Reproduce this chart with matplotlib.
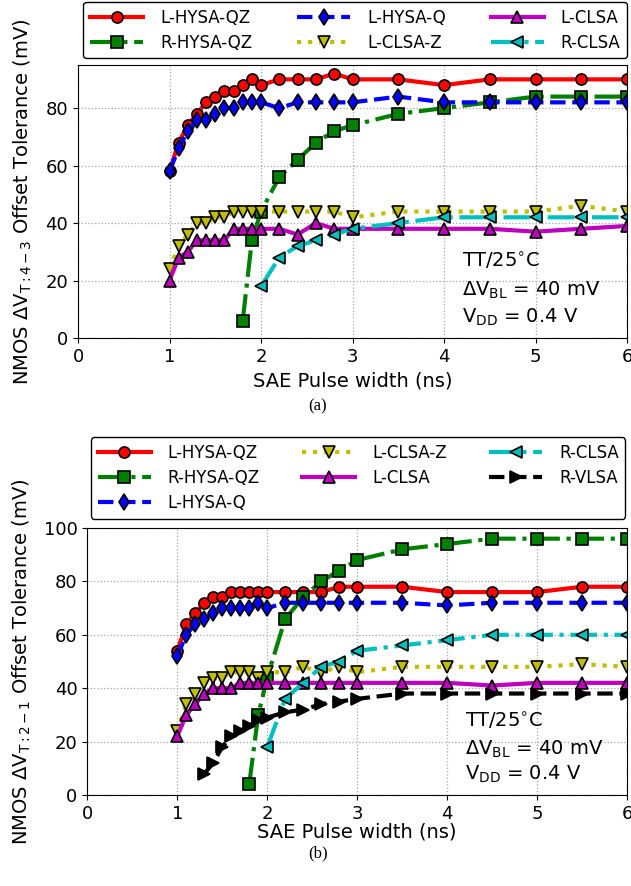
import matplotlib
matplotlib.use("Agg")
import matplotlib.pyplot as plt

# pulse widths (ns)
x_l = [1.0, 1.1, 1.2, 1.3, 1.4, 1.5, 1.6, 1.7, 1.8, 1.9, 2.0,
       2.2, 2.4, 2.6, 2.8, 3.0, 3.5, 4.0, 4.5, 5.0, 5.5, 6.0]
x_rq = [1.8, 1.9, 2.0, 2.2, 2.4, 2.6, 2.8, 3.0, 3.5, 4.0, 4.5, 5.0, 5.5, 6.0]
x_rc = [2.0, 2.2, 2.4, 2.6, 2.8, 3.0, 3.5, 4.0, 4.5, 5.0, 5.5, 6.0]
x_rv = [1.3, 1.4, 1.5, 1.6, 1.7, 1.8, 1.9, 2.0, 2.2, 2.4, 2.6, 2.8, 3.0,
        3.5, 4.0, 4.5, 5.0, 5.5, 6.0]

# (a) dVT:4-3
hysa_qz_a = [58, 68, 74, 78, 82, 84, 86, 86, 88, 90, 88, 90, 90, 90, 92, 90, 90, 88, 90, 90, 90, 90]
hysa_q_a = [58, 66, 72, 76, 76, 78, 80, 80, 82, 82, 82, 80, 82, 82, 82, 82, 84, 82, 82, 82, 82, 82]
clsa_z_a = [24, 32, 36, 40, 40, 42, 42, 44, 44, 44, 44, 44, 44, 44, 44, 42, 44, 44, 44, 44, 46, 44]
clsa_a = [20, 28, 30, 34, 34, 34, 34, 38, 38, 38, 38, 38, 36, 40, 38, 38, 38, 38, 38, 37, 38, 39]
r_hysa_qz_a = [6, 34, 44, 56, 62, 68, 72, 74, 78, 80, 82, 84, 84, 84]
r_clsa_a = [18, 28, 32, 34, 36, 38, 40, 42, 42, 42, 42, 42]

# (b) dVT:2-1
hysa_qz_b = [54, 64, 68, 72, 74, 74, 76, 76, 76, 76, 76, 76, 76, 76, 78, 78, 78, 76, 76, 76, 78, 78]
hysa_q_b = [52, 60, 64, 66, 68, 70, 70, 70, 70, 72, 70, 72, 72, 72, 72, 72, 72, 71, 72, 72, 72, 72]
clsa_z_b = [24, 34, 38, 42, 44, 44, 46, 46, 46, 44, 46, 46, 48, 46, 48, 46, 48, 48, 48, 48, 49, 48]
clsa_b = [22, 30, 34, 38, 40, 40, 40, 42, 42, 42, 42, 42, 42, 42, 42, 42, 42, 42, 41, 42, 42, 42]
r_hysa_qz_b = [4, 30, 44, 66, 74, 80, 84, 88, 92, 94, 96, 96, 96, 96]
r_clsa_b = [18, 36, 42, 48, 50, 54, 56, 58, 60, 60, 60, 60]
r_vlsa_b = [8, 12, 18, 22, 24, 26, 28, 29, 31, 32, 34, 35, 36, 38, 38, 38, 38, 38, 38]

cond_lines = ['TT/25$^{\\circ}$C', '$\\Delta$V$_{\\rm BL}$ = 40 mV', 'V$_{\\rm DD}$ = 0.4 V']

LW = 3
MS = 8


def draw(ax, x, y, color, ls, marker, label):
    ax.plot(x, y, color=color, linestyle=ls, linewidth=LW, marker=marker,
            markersize=MS, markeredgecolor='k', markeredgewidth=1.2, label=label)


def style(ax, ylim, sub, xpad):
    ax.set_xlim(0, 6)
    ax.set_ylim(*ylim)
    ax.set_xticks(range(7))
    ax.grid(True, linestyle=':', color='0.65', linewidth=0.9)
    ax.tick_params(labelsize=13)
    ax.set_xlabel('SAE Pulse width (ns)', fontsize=14, labelpad=xpad)
    ax.set_ylabel(r'NMOS $\Delta\mathrm{V}_{\mathrm{T:%s}}$ Offset Tolerance (mV)' % sub,
                  fontsize=14, labelpad=8)


def conditions(ax, x, ys):
    for y, s in zip(ys, cond_lines):
        ax.text(x, y, s, fontsize=14, va='center', ha='left')


def legend(ax, anchor):
    ax.legend(loc='lower left', bbox_to_anchor=anchor, mode='expand', ncol=3,
              fontsize=12, handlelength=3.2, handletextpad=1.0, labelspacing=0.42,
              edgecolor='k', framealpha=1, borderaxespad=0)


fig = plt.figure(figsize=(6.31, 8.86), dpi=100)

ax1 = fig.add_axes([78 / 631, 1 - 338 / 886, 549 / 631, 273 / 886])
draw(ax1, x_l, hysa_qz_a, 'r', '-', 'o', 'L-HYSA-QZ')
draw(ax1, x_rq, r_hysa_qz_a, 'g', '-.', 's', 'R-HYSA-QZ')
draw(ax1, x_l, hysa_q_a, 'b', '--', 'd', 'L-HYSA-Q')
draw(ax1, x_l, clsa_z_a, 'y', ':', 'v', 'L-CLSA-Z')
draw(ax1, x_l, clsa_a, 'm', '-', '^', 'L-CLSA')
draw(ax1, x_rc, r_clsa_a, 'c', '-.', '<', 'R-CLSA')
style(ax1, (0, 95), '4-3', 4)
legend(ax1, (0.01, 1.025, 0.99, 0.2))
conditions(ax1, 4.2, [26.5, 16.6, 7.3])

ax2 = fig.add_axes([87.3 / 631, 1 - 795 / 886, 539.7 / 631, 267 / 886])
draw(ax2, x_l, hysa_qz_b, 'r', '-', 'o', 'L-HYSA-QZ')
draw(ax2, x_rq, r_hysa_qz_b, 'g', '-.', 's', 'R-HYSA-QZ')
draw(ax2, x_l, hysa_q_b, 'b', '--', 'd', 'L-HYSA-Q')
draw(ax2, x_l, clsa_z_b, 'y', ':', 'v', 'L-CLSA-Z')
draw(ax2, x_l, clsa_b, 'm', '-', '^', 'L-CLSA')
draw(ax2, x_rc, r_clsa_b, 'c', '-.', '<', 'R-CLSA')
draw(ax2, x_rv, r_vlsa_b, 'k', '--', '>', 'R-VLSA')
style(ax2, (0, 100), '2-1', 0)
legend(ax2, (0.007, 1.035, 0.99, 0.2))
conditions(ax2, 4.2, [27.6, 17.0, 7.6])

fig.text(0.504, 1 - 406 / 886, '(a)', ha='center', va='center',
         family='Liberation Serif', fontsize=12)
fig.text(0.504, 1 - 853 / 886, '(b)', ha='center', va='center',
         family='Liberation Serif', fontsize=12)

fig.savefig('out.png', dpi=100)
